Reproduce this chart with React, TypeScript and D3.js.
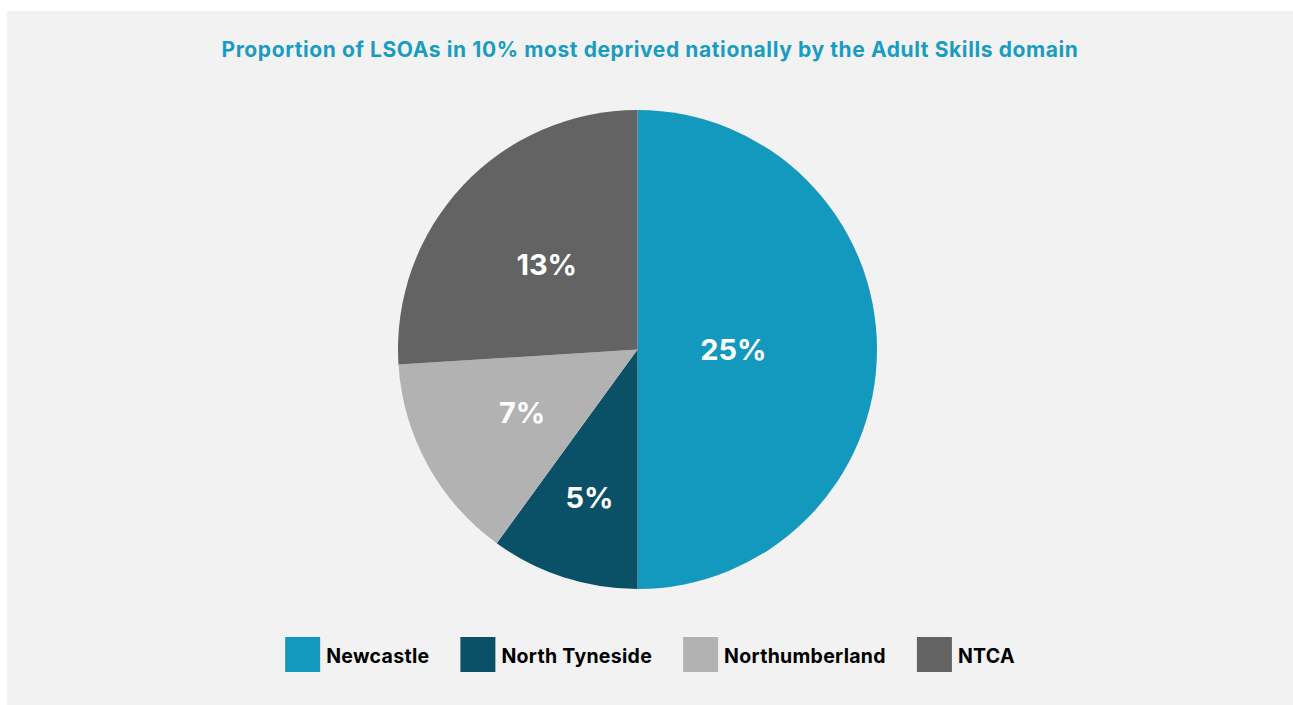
import React, { useEffect, useRef } from "react";
import * as d3 from "d3";

const categories = ["Newcastle", "North Tyneside", "Northumberland", "NTCA"];
const values = [25, 5, 7, 13];
const labels = ["25%", "5%", "7%", "13%"];
const colors = ["#1399bd", "#0a5066", "#b2b2b2", "#636363"];
const labelRadiusFrac = [0.4, 0.65, 0.55, 0.52];
const title = "Proportion of LSOAs in 10% most deprived nationally by the Adult Skills domain";

const W = 1293;
const H = 705;
const FONT = "Inter, 'Open Sans', sans-serif";

export default function App() {
  const ref = useRef<SVGSVGElement | null>(null);

  useEffect(() => {
    const svg = d3.select(ref.current);
    svg.selectAll("*").remove();

    svg.append("rect").attr("x", 7).attr("y", 11).attr("width", W - 7).attr("height", H - 11).attr("fill", "#f2f2f2");

    svg.append("text")
      .attr("x", 650).attr("y", 57)
      .attr("text-anchor", "middle")
      .attr("font-family", FONT).attr("font-weight", 700).attr("font-size", 21)
      .attr("letter-spacing", 0.6)
      .attr("fill", "#1a9cc1")
      .text(title);

    const cx = 637.5, cy = 349.5, r = 239.5;
    const pie = d3.pie<number>().sort(null).value((d) => d);
    const arcs = pie(values);
    const arc = d3.arc<d3.PieArcDatum<number>>().innerRadius(0).outerRadius(r);
    const g = svg.append("g").attr("transform", `translate(${cx},${cy})`);
    g.selectAll("path").data(arcs).enter().append("path")
      .attr("d", arc as any)
      .attr("fill", (_d, i) => colors[i]);

    arcs.forEach((a, i) => {
      const lr = r * labelRadiusFrac[i];
      const la = d3.arc<d3.PieArcDatum<number>>().innerRadius(lr).outerRadius(lr);
      const [x, y] = la.centroid(a);
      g.append("text")
        .attr("x", x).attr("y", y)
        .attr("text-anchor", "middle").attr("dominant-baseline", "central")
        .attr("font-family", FONT).attr("font-weight", 700).attr("font-size", 29)
        .attr("fill", "#ffffff")
        .text(labels[i]);
    });

    // legend
    const lg = svg.append("g");
    const sq = 35, gapText = 6, gapItem = 31;
    const items = categories.map((c, i) => {
      const ig = lg.append("g");
      ig.append("rect").attr("width", sq).attr("height", sq).attr("y", 637).attr("fill", colors[i]);
      const t = ig.append("text")
        .attr("x", sq + gapText).attr("y", 663)
        .attr("font-family", FONT).attr("font-weight", 700).attr("font-size", 19.5)
        .attr("letter-spacing", 0.3)
        .attr("fill", "#000000")
        .text(c);
      const w = (t.node() as SVGTextElement).getComputedTextLength();
      return { ig, w: sq + gapText + w };
    });
    const total = items.reduce((s, it) => s + it.w, 0) + gapItem * (items.length - 1);
    let x = 650 - total / 2;
    items.forEach((it) => {
      it.ig.attr("transform", `translate(${x},0)`);
      x += it.w + gapItem;
    });
  }, []);

  return (
    <svg ref={ref} width={W} height={H} style={{ position: "absolute", left: 0, top: 0, display: "block" }} />
  );
}
